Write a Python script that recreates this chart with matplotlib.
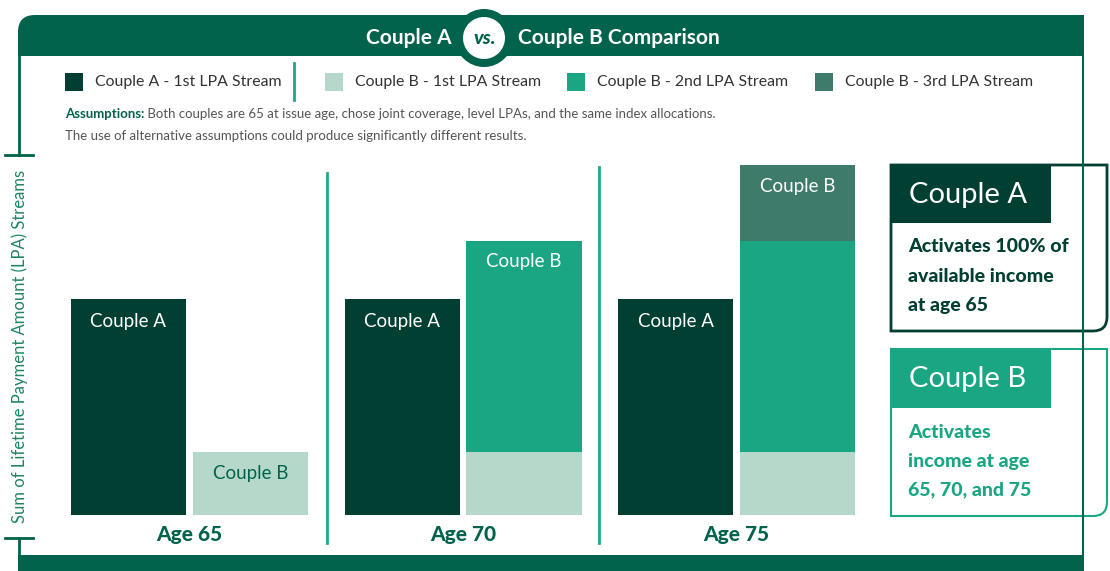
import matplotlib
matplotlib.use("Agg")
import matplotlib.pyplot as plt
from matplotlib.path import Path
from matplotlib.patches import PathPatch, Rectangle, Circle
import numpy as np

# ---------------- data ----------------
ages = ["Age 65", "Age 70", "Age 75"]
couple_a = [100, 100, 100]
b_first = [29, 29, 29]
b_second = [0, 98, 98]
b_third = [0, 0, 35]
legend_labels = ["Couple A - 1st LPA Stream", "Couple B - 1st LPA Stream",
                 "Couple B - 2nd LPA Stream", "Couple B - 3rd LPA Stream"]

# ---------------- style ----------------
C_DARK = "#013f32"
C_LIGHT = "#b6d8ca"
C_TEAL = "#1aa683"
C_THIRD = "#3f7b6b"
C_HEAD = "#02634c"
C_SEP = "#1fa888"
FONT = "Lato"

W, H = 1110, 571
fig = plt.figure(figsize=(W / 100, H / 100), dpi=100)
fig.patch.set_facecolor("white")

# background axes in pixel coordinates for decoration
bg = fig.add_axes([0, 0, 1, 1], zorder=1)
bg.set_xlim(0, W)
bg.set_ylim(H, 0)
bg.axis("off")

M, L, C3, CL = Path.MOVETO, Path.LINETO, Path.CURVE3, Path.CLOSEPOLY

# header band with rounded top-left corner
hv = [(18, 56), (18, 32), (18, 15), (35, 15), (1084, 15), (1084, 56), (18, 56)]
hc = [M, L, C3, C3, L, L, CL]
bg.add_patch(PathPatch(Path(hv, hc), facecolor=C_HEAD, edgecolor="none"))
# bottom band
bg.add_patch(Rectangle((18, 555), 1066, 20, facecolor=C_HEAD, edgecolor="none"))

# frame lines
bg.plot([19, 19], [55, 155], color=C_HEAD, lw=2)
bg.plot([5, 33], [155, 155], color=C_HEAD, lw=2)
bg.plot([5, 33], [538, 538], color=C_HEAD, lw=2)
bg.plot([19, 19], [538, 556], color=C_HEAD, lw=2)
bg.plot([1083, 1083], [55, 556], color=C_HEAD, lw=1.5)

# vs circle
bg.add_patch(Circle((484, 38), 29, facecolor=C_HEAD, edgecolor="none"))
bg.add_patch(Circle((484, 38), 21, facecolor="white", edgecolor="none"))
bg.text(485, 39, "vs.", color=C_HEAD, fontsize=14, fontweight="black",
        fontstyle="italic", family=FONT, ha="center", va="center")
bg.text(452, 38, "Couple A", color="white", fontsize=15, fontweight="bold",
        family=FONT, ha="right", va="center")
bg.text(518, 38, "Couple B Comparison", color="white", fontsize=15,
        fontweight="bold", family=FONT, ha="left", va="center")

# legend
leg_colors = [C_DARK, C_LIGHT, C_TEAL, C_THIRD]
sq_x = [65, 325, 567, 815]
for lab, col, x in zip(legend_labels, leg_colors, sq_x):
    bg.add_patch(Rectangle((x, 73), 18, 18, facecolor=col, edgecolor="none"))
    bg.text(x + 30, 82, lab, fontsize=11.4, family=FONT, color="#333333",
            ha="left", va="center")
bg.plot([294, 294], [63, 100], color=C_SEP, lw=2)

# assumptions
t1 = bg.text(65, 120, "Assumptions:", fontsize=9.5, fontweight="bold",
             family=FONT, color=C_HEAD, ha="left", va="bottom")
bg.annotate(" Both couples are 65 at issue age, chose joint coverage, level LPAs, "
            "and the same index allocations.", xy=(1, 0), xycoords=t1,
            fontsize=9.5, family=FONT, color="#555555", ha="left", va="bottom")
bg.text(65, 142, "The use of alternative assumptions could produce significantly "
        "different results.", fontsize=9.5, family=FONT, color="#555555",
        ha="left", va="bottom")

# y-axis label
bg.text(20, 346, "Sum of Lifetime Payment Amount (LPA) Streams", rotation=90,
        fontsize=12, family=FONT, color="#1f8466", ha="center", va="center")

# group separators
bg.plot([327, 327], [173, 543], color=C_SEP, lw=2)
bg.plot([599, 599], [167, 543], color=C_SEP, lw=2)


def box(x0, y0, x1, y1, r, edge, lw):
    v = [(x0, y0), (x1, y0), (x1, y1 - r), (x1, y1), (x1 - r, y1), (x0, y1), (x0, y0)]
    c = [M, L, L, C3, C3, L, CL]
    bg.add_patch(PathPatch(Path(v, c), facecolor="white", edgecolor=edge, lw=lw))


# Couple A box
box(891, 165, 1107, 331, 14, C_DARK, 2)
bg.add_patch(Rectangle((891, 165), 160, 58, facecolor=C_DARK, edgecolor="none"))
bg.text(909, 195, "Couple A", color="white", fontsize=21, fontweight="normal",
        family=FONT, ha="left", va="center")
for i, line in enumerate(["Activates 100% of", "available income", "at age 65"]):
    bg.text(908, 247 + 29 * i, line, color=C_DARK, fontsize=14,
            fontweight="black", family=FONT, ha="left", va="center")

# Couple B box
box(891, 349, 1107, 516, 14, C_TEAL, 1.5)
bg.add_patch(Rectangle((891, 349), 160, 59, facecolor=C_TEAL, edgecolor="none"))
bg.text(909, 379, "Couple B", color="white", fontsize=21, fontweight="normal",
        family=FONT, ha="left", va="center")
for i, line in enumerate(["Activates", "income at age", "65, 70, and 75"]):
    bg.text(908, 432 + 29 * i, line, color=C_TEAL, fontsize=14,
            fontweight="black", family=FONT, ha="left", va="center")

# ---------------- bars ----------------
ax_l, ax_r, ax_b, ax_t = 40, 880, 515, 150
ax = fig.add_axes([ax_l / W, 1 - ax_b / H, (ax_r - ax_l) / W, (ax_b - ax_t) / H],
                  zorder=2)
ax.patch.set_alpha(0)
group_px = 273.5
g0 = 189.5
ax.set_xlim((ax_l - g0) / group_px, (ax_r - g0) / group_px)
ax.set_ylim(0, 100 * (ax_b - ax_t) / 216)
for s in ax.spines.values():
    s.set_visible(False)
ax.set_yticks([])

x = np.arange(len(ages))
off = 61 / group_px
bw = 115 / group_px

ax.bar(x - off, couple_a, bw, color=C_DARK)
b1 = np.array(b_first)
b2 = np.array(b_second)
b3 = np.array(b_third)
ax.bar(x + off, b1, bw, color=C_LIGHT)
ax.bar(x + off, b2, bw, bottom=b1, color=C_TEAL)
ax.bar(x + off, b3, bw, bottom=b1 + b2, color=C_THIRD)

for i in range(len(ages)):
    ax.annotate("Couple A", (x[i] - off, couple_a[i]), xytext=(0, -22),
                textcoords="offset pixels", ha="center", va="center",
                color="white", fontsize=13.5, family=FONT)
    top = b1[i] + b2[i] + b3[i]
    col = C_HEAD if (b2[i] == 0 and b3[i] == 0) else "white"
    ax.annotate("Couple B", (x[i] + off, top), xytext=(0, -21),
                textcoords="offset pixels", ha="center", va="center",
                color=col, fontsize=13.5, family=FONT)

ax.set_xticks(x)
ax.set_xticklabels(ages, fontsize=15, fontweight="black", family=FONT, color=C_HEAD)
ax.tick_params(axis="x", length=0, pad=7)

fig.savefig("out.png", dpi=100, facecolor="white")
